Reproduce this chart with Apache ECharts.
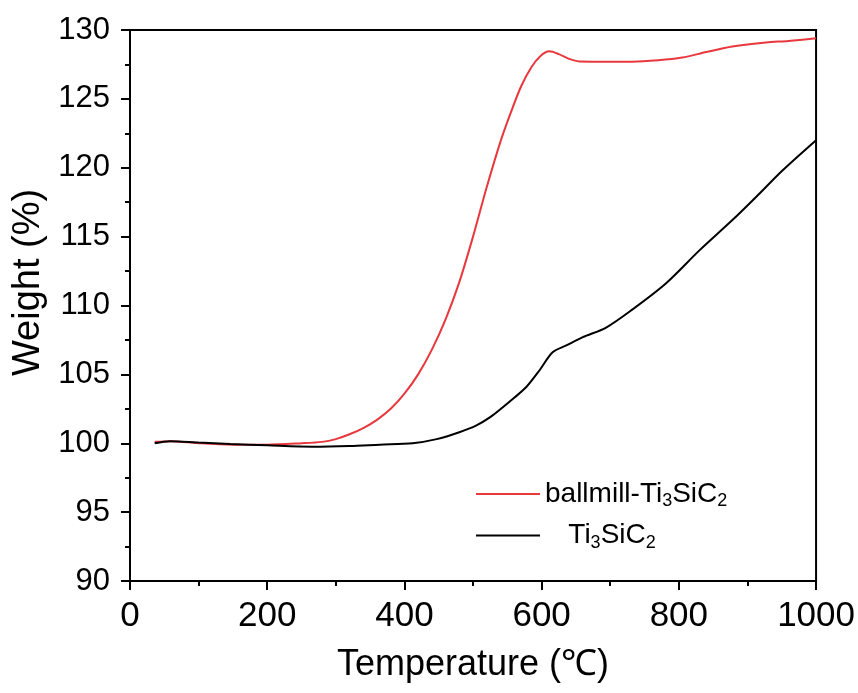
<!DOCTYPE html>
<html>
<head>
<meta charset="utf-8">
<script src="https://cdn.jsdelivr.net/npm/echarts@6/dist/echarts.min.js"></script>
<style>html,body{margin:0;padding:0;background:#fff;}#c{width:858px;height:693px;}</style>
</head>
<body>
<div id="c"></div>
<script>
const tempRed = [36, 60, 100, 150, 200, 250, 280, 300, 320, 340, 360, 380, 400, 420, 440, 460, 480, 500, 520, 540, 555, 570, 585, 598, 611, 625, 640, 655, 700, 732, 770, 805, 840, 878, 927, 960, 1000];
const weightRed = [100.1, 100.15, 100.0, 99.9, 99.9, 100.0, 100.1, 100.3, 100.65, 101.1, 101.7, 102.5, 103.6, 105.0, 106.8, 109.0, 111.7, 115.0, 118.6, 121.9, 124.0, 125.9, 127.3, 128.1, 128.45, 128.25, 127.9, 127.72, 127.7, 127.7, 127.8, 128.0, 128.4, 128.8, 129.1, 129.2, 129.4];
const tempBlack = [36, 58, 100, 146, 200, 266, 320, 364, 412, 447, 480, 505, 525, 543, 560, 578, 597, 616, 636, 660, 694, 732, 781, 830, 878, 915, 951, 1000];
const weightBlack = [100.0, 100.15, 100.05, 99.95, 99.85, 99.75, 99.8, 99.9, 100.0, 100.3, 100.8, 101.3, 101.9, 102.6, 103.3, 104.1, 105.3, 106.6, 107.1, 107.7, 108.4, 109.7, 111.6, 114.0, 116.2, 118.0, 119.8, 122.0];
const seriesNames = ['ballmill-Ti3SiC2', 'Ti3SiC2'];
const xTitle = 'Temperature (℃)';
const yTitle = 'Weight (%)';

const chart = echarts.init(document.getElementById('c'));
const font = 'Liberation Sans, Arial, sans-serif';
chart.setOption({
  animation: false,
  backgroundColor: '#fff',
  grid: { left: 130, right: 41, top: 30, bottom: 112, show: true, borderColor: '#000', borderWidth: 2 },
  legend: {
    orient: 'vertical', left: 476, top: 480, padding: 0, itemWidth: 64, itemHeight: 2, itemGap: 11,
    icon: 'rect',
    data: seriesNames,
    formatter: function (name) {
      return name === seriesNames[0] ? '{n|ballmill-Ti}{s|3}{n|SiC}{s|2}' : '{n|   Ti}{s|3}{n|SiC}{s|2}';
    },
    textStyle: {
      fontFamily: font, color: '#000',
      rich: {
        n: { fontSize: 28, fontFamily: font, color: '#000' },
        s: { fontSize: 18, fontFamily: font, color: '#000', padding: [15, 0, 0, 0] }
      }
    }
  },
  xAxis: {
    type: 'value', min: 0, max: 1000, interval: 200,
    name: xTitle, nameLocation: 'middle', nameGap: 66,
    nameTextStyle: { fontFamily: font, fontSize: 36, color: '#000' },
    axisLine: { lineStyle: { color: '#000', width: 2 } },
    axisTick: { inside: false, length: 9, lineStyle: { color: '#000', width: 2 } },
    minorTick: { show: true, splitNumber: 2, length: 5, lineStyle: { color: '#000', width: 2 } },
    axisLabel: { fontFamily: font, fontSize: 35, color: '#000', margin: 18, formatter: v => String(v) },
    splitLine: { show: false }
  },
  yAxis: {
    type: 'value', min: 90, max: 130, interval: 5,
    name: yTitle, nameLocation: 'middle', nameGap: 80,
    nameTextStyle: { fontFamily: font, fontSize: 38, color: '#000', padding: [0, 0, 0, 46] },
    axisLine: { lineStyle: { color: '#000', width: 2 } },
    axisTick: { inside: false, length: 9, lineStyle: { color: '#000', width: 2 } },
    minorTick: { show: true, splitNumber: 2, length: 5, lineStyle: { color: '#000', width: 2 } },
    axisLabel: { fontFamily: font, fontSize: 31, color: '#000', margin: 20, formatter: v => String(v) },
    splitLine: { show: false }
  },
  series: [
    {
      name: seriesNames[0], type: 'line', symbol: 'none', smooth: 0.3,
      lineStyle: { color: '#e8383d', width: 2 }, itemStyle: { color: '#e8383d' },
      data: tempRed.map((t, i) => [t, weightRed[i]])
    },
    {
      name: seriesNames[1], type: 'line', symbol: 'none', smooth: 0.3,
      lineStyle: { color: '#000', width: 2 }, itemStyle: { color: '#000' },
      data: tempBlack.map((t, i) => [t, weightBlack[i]])
    }
  ]
});
</script>
</body>
</html>
